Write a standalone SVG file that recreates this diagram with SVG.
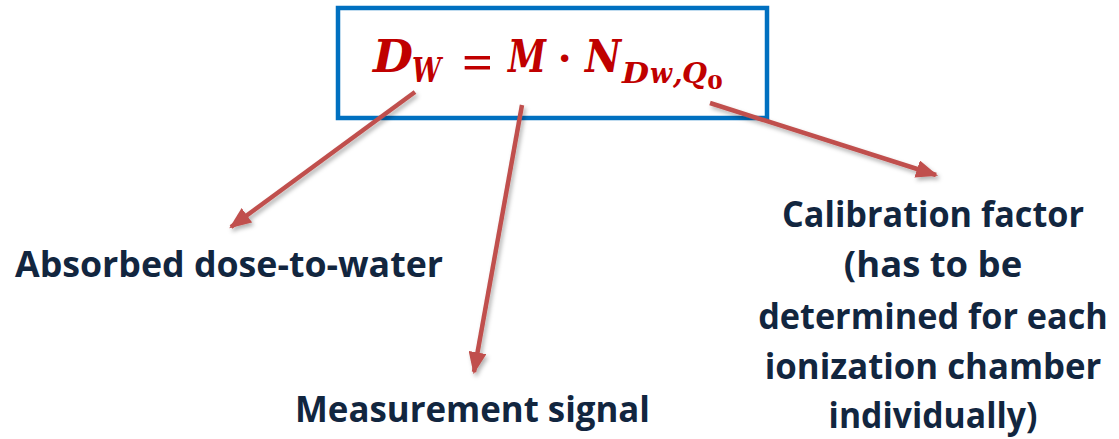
<svg xmlns="http://www.w3.org/2000/svg" width="1119" height="439" viewBox="0 0 1119 439">
<style>
.lbl{font-family:"Open Sans",Lato,"Liberation Sans",sans-serif;font-weight:bold;font-size:36px;fill:#12263F}
.eq{font-family:"DejaVu Serif","Liberation Serif",serif;font-weight:bold;font-style:italic;fill:#C00000}
.eqn{font-family:"Liberation Serif","DejaVu Serif",serif;font-weight:bold;fill:#C00000}
.arr{stroke:#C0504D;stroke-width:4.5;fill:none;marker-end:url(#ah);filter:url(#sh)}
</style>
<defs>
<marker id="ah" viewBox="0 0 10 10" refX="9" refY="5" markerWidth="22" markerHeight="18" markerUnits="userSpaceOnUse" orient="auto" preserveAspectRatio="none">
<path d="M0,0 L10,5 L0,10 Z" fill="#C0504D"/>
</marker>
<filter id="sh" x="-20%" y="-20%" width="140%" height="140%">
<feDropShadow dx="2" dy="3" stdDeviation="2" flood-color="#000" flood-opacity="0.3"/>
</filter>
</defs>
<g id="formula">
<rect x="338" y="8" width="429" height="110" fill="#FFFFFF" stroke="#0070C0" stroke-width="4.5"/>
<text class="eq" x="373" y="72" font-size="44" textLength="40" lengthAdjust="spacingAndGlyphs">D</text>
<text class="eq" x="412" y="82" font-size="34" textLength="29" lengthAdjust="spacingAndGlyphs">W</text>
<text class="eqn" x="462" y="79" font-size="50" textLength="31" lengthAdjust="spacingAndGlyphs">=</text>
<text class="eq" x="508" y="72" font-size="44" textLength="38" lengthAdjust="spacingAndGlyphs">M</text>
<text class="eqn" x="557" y="74" font-size="46">·</text>
<text class="eq" x="585" y="72" font-size="44" textLength="36" lengthAdjust="spacingAndGlyphs">N</text>
<text class="eq" x="622" y="83" font-size="28" textLength="27" lengthAdjust="spacingAndGlyphs">D</text>
<text class="eq" x="650" y="83" font-size="28" textLength="22" lengthAdjust="spacingAndGlyphs">w</text>
<text class="eq" x="673" y="83" font-size="28">,</text>
<text class="eq" x="682" y="83" font-size="28" textLength="25" lengthAdjust="spacingAndGlyphs">Q</text>
<text class="eqn" x="707" y="89" font-size="22" textLength="16" lengthAdjust="spacingAndGlyphs">0</text>
</g>
<g id="connectors">
<line class="arr" x1="415" y1="92" x2="231" y2="227"/>
<line class="arr" x1="522" y1="105" x2="474" y2="372"/>
<line class="arr" x1="710" y1="103" x2="936" y2="175"/>
</g>
<g id="absorbed">
<text class="lbl" x="15" y="277" textLength="428" lengthAdjust="spacingAndGlyphs">Absorbed dose-to-water</text>
</g>
<g id="measurement">
<text class="lbl" x="295" y="422" textLength="355" lengthAdjust="spacingAndGlyphs">Measurement signal</text>
</g>
<g id="calibration" transform="translate(933 0) scale(0.87 1)">
<text class="lbl" x="0" y="227" text-anchor="middle" textLength="347" lengthAdjust="spacingAndGlyphs">Calibration factor</text>
<text class="lbl" x="0" y="277" text-anchor="middle" textLength="205" lengthAdjust="spacingAndGlyphs">(has to be</text>
<text class="lbl" x="0" y="329" text-anchor="middle" textLength="402" lengthAdjust="spacingAndGlyphs">determined for each</text>
<text class="lbl" x="0" y="379" text-anchor="middle" textLength="387" lengthAdjust="spacingAndGlyphs">ionization chamber</text>
<text class="lbl" x="0" y="428" text-anchor="middle" textLength="240" lengthAdjust="spacingAndGlyphs">individually)</text>
</g>
</svg>
